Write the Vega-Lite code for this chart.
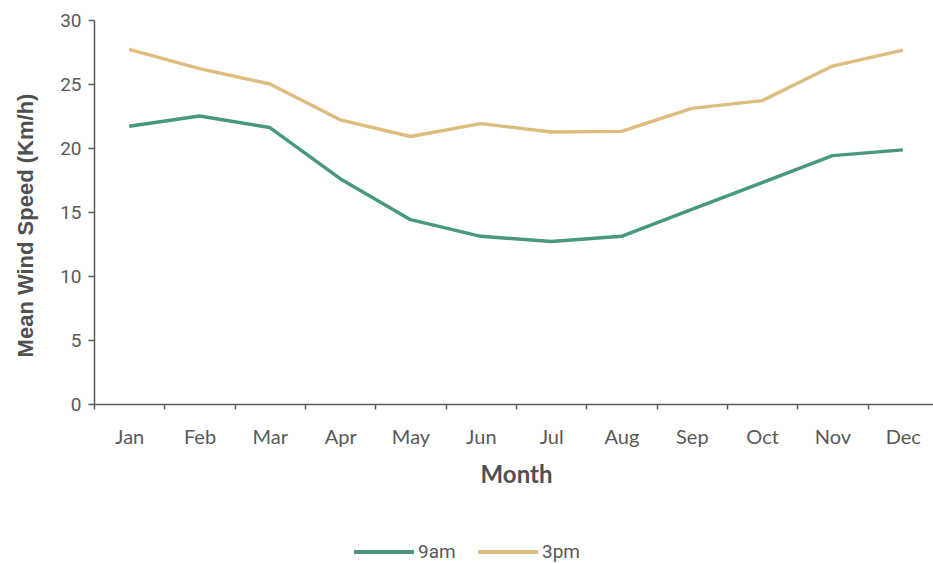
{
  "$schema": "https://vega.github.io/schema/vega-lite/v6.json",
  "autosize": "none",
  "width": 844,
  "height": 384,
  "padding": {"left": 94, "top": 20, "right": 0, "bottom": 160},
  "background": "white",
  "config": {"view": {"stroke": null}, "font": "Lato"},
  "data": {"values": [
    {"month": "Jan", "series": "9am", "speed": 21.7},
    {"month": "Feb", "series": "9am", "speed": 22.5},
    {"month": "Mar", "series": "9am", "speed": 21.6},
    {"month": "Apr", "series": "9am", "speed": 17.6},
    {"month": "May", "series": "9am", "speed": 14.4},
    {"month": "Jun", "series": "9am", "speed": 13.1},
    {"month": "Jul", "series": "9am", "speed": 12.7},
    {"month": "Aug", "series": "9am", "speed": 13.1},
    {"month": "Sep", "series": "9am", "speed": 15.2},
    {"month": "Oct", "series": "9am", "speed": 17.3},
    {"month": "Nov", "series": "9am", "speed": 19.4},
    {"month": "Dec", "series": "9am", "speed": 19.85},
    {"month": "Jan", "series": "3pm", "speed": 27.7},
    {"month": "Feb", "series": "3pm", "speed": 26.2},
    {"month": "Mar", "series": "3pm", "speed": 25.0},
    {"month": "Apr", "series": "3pm", "speed": 22.2},
    {"month": "May", "series": "3pm", "speed": 20.9},
    {"month": "Jun", "series": "3pm", "speed": 21.9},
    {"month": "Jul", "series": "3pm", "speed": 21.25},
    {"month": "Aug", "series": "3pm", "speed": 21.3},
    {"month": "Sep", "series": "3pm", "speed": 23.1},
    {"month": "Oct", "series": "3pm", "speed": 23.7},
    {"month": "Nov", "series": "3pm", "speed": 26.4},
    {"month": "Dec", "series": "3pm", "speed": 27.65}
  ]},
  "mark": {"type": "line", "interpolate": "linear", "strokeWidth": 3.4, "strokeJoin": "round"},
  "encoding": {
    "x": {
      "field": "month", "type": "nominal", "sort": null,
      "scale": {"paddingInner": 0, "paddingOuter": 0},
      "axis": {
        "title": "Month", "titleFontSize": 24, "titleFontWeight": "bold", "titleColor": "#505050", "titlePadding": 16, "titleFont": "Lato",
        "labelAngle": 0, "labelFontSize": 20, "labelColor": "#595959", "labelPadding": 18, "labelFont": "Lato",
        "tickBand": "extent",
        "domainColor": "#595959", "domainWidth": 1.5, "tickColor": "#595959", "tickWidth": 1.5, "tickSize": 5, "grid": false
      }
    },
    "y": {
      "field": "speed", "type": "quantitative",
      "scale": {"domain": [0, 30], "nice": false},
      "axis": {
        "title": "Mean Wind Speed (Km/h)", "titleFontSize": 22, "titleFontWeight": "bold", "titleColor": "#505050", "titlePadding": 22, "titleFont": "Liberation Sans",
        "titleY": 205,
        "values": [0, 5, 10, 15, 20, 25, 30],
        "labelFontSize": 19, "labelColor": "#595959", "labelPadding": 7, "labelFont": "Roboto",
        "domainColor": "#595959", "domainWidth": 1.5, "tickColor": "#595959", "tickWidth": 1.5, "tickSize": 6, "grid": false
      }
    },
    "color": {
      "field": "series", "type": "nominal",
      "scale": {"domain": ["9am", "3pm"], "range": ["#48987a", "#dcbd7d"]},
      "legend": {
        "title": null, "orient": "none", "legendX": 258, "legendY": 500, "direction": "horizontal",
        "symbolType": "stroke", "symbolSize": 3600, "symbolStrokeWidth": 4,
        "labelFontSize": 19, "labelColor": "#595959", "labelFont": "Roboto", "columnPadding": 14, "labelOffset": 2
      }
    }
  }
}
